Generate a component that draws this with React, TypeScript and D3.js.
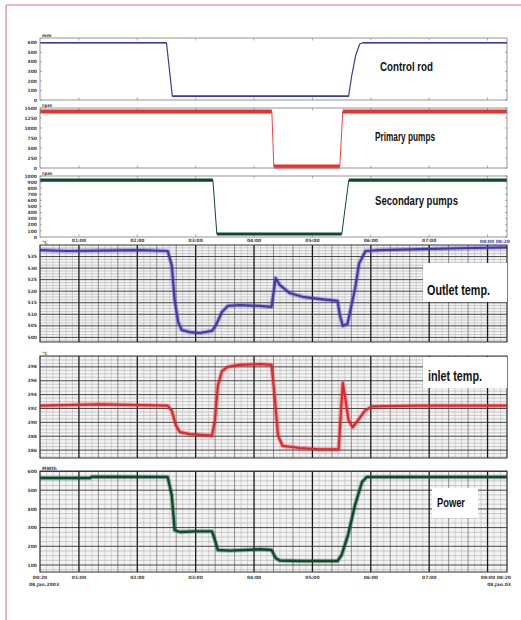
import React from 'react';
import * as d3 from 'd3';

// ---------- DATA ----------
const timeStart = 1 / 3;
const timeEnd = 25 / 3;
const timeTicks = [1, 2, 3, 4, 5, 6, 7, 8];
const timeLabels = ['01:00', '02:00', '03:00', '04:00', '05:00', '06:00', '07:00', '08:00'];
const startLabel = ['00:20', '08.Jan.2003'];
const endLabel = ['08:20', '08.Jan.03'];

const rodDomain = [0, 650];
const rodTicks = [0, 100, 200, 300, 400, 500, 600];
const controlRod: [number, number][] = [
  [0.333, 600], [2.5, 600], [2.6, 40], [5.62, 40], [5.675, 262], [5.743, 472], [5.81, 587], [5.863, 600], [8.333, 600],
];

const primaryDomain = [0, 1500];
const primaryTicks = [0, 250, 500, 750, 1000, 1250, 1500];
const primaryPumps: [number, number][] = [
  [0.333, 1412], [4.305, 1412], [4.339, 37], [5.469, 37], [5.52, 1412], [8.333, 1412],
];

const secondaryDomain = [0, 1000];
const secondaryTicks = [0, 100, 200, 300, 400, 500, 600, 700, 800, 900, 1000];
const secondaryPumps: [number, number][] = [
  [0.333, 934], [3.295, 934], [3.363, 49], [5.503, 49], [5.623, 934], [8.333, 934],
];

const outletDomain = [498, 540];
const outletTicks = [500, 505, 510, 515, 520, 525, 530, 535];
const outletTemp: [number, number][] = [
  [0.333, 537.8], [0.8, 537.4], [1.36, 537.6], [2.04, 537.8], [2.52, 537.4], [2.59, 531.3], [2.64, 516.2],
  [2.7, 506.7], [2.76, 503.2], [2.9, 502.3], [3.07, 501.9], [3.28, 502.8], [3.35, 505.4], [3.45, 511.0],
  [3.55, 513.6], [3.76, 514.0], [4.1, 513.6], [4.3, 513.2], [4.34, 520.5], [4.37, 525.7], [4.44, 522.7],
  [4.61, 519.2], [4.84, 517.5], [5.13, 516.6], [5.43, 515.8], [5.47, 509.7], [5.52, 505.0], [5.6, 505.8],
  [5.66, 512.8], [5.73, 521.0], [5.8, 532.0], [5.91, 537.4], [6.15, 537.8], [6.84, 538.2], [7.52, 538.6], [8.333, 539.0],
];

const inletDomain = [384.86, 399.57];
const inletTicks = [386, 388, 390, 392, 394, 396, 398];
const inletTemp: [number, number][] = [
  [0.333, 392.4], [1.36, 392.6], [2.52, 392.4], [2.59, 391.7], [2.66, 389.6], [2.73, 388.6], [2.9, 388.3],
  [3.28, 388.1], [3.33, 390.3], [3.38, 395.3], [3.45, 397.4], [3.55, 398.0], [3.76, 398.3], [4.1, 398.4],
  [4.3, 398.3], [4.36, 393.1], [4.41, 388.1], [4.49, 386.6], [4.78, 386.3], [5.13, 386.1], [5.45, 386.1],
  [5.48, 390.3], [5.52, 395.7], [5.57, 393.1], [5.62, 390.3], [5.69, 389.3], [5.78, 390.3], [5.9, 391.7],
  [6.02, 392.3], [6.84, 392.4], [8.333, 392.4],
];

const powerDomain = [62.6, 602.7];
const powerTicks = [100, 200, 300, 400, 500, 600];
const power: [number, number][] = [
  [0.333, 565.3], [1.19, 565.3], [1.22, 572], [2.52, 570.6], [2.59, 474], [2.64, 287], [2.73, 276.5],
  [2.99, 280], [3.28, 280], [3.33, 233.7], [3.38, 180], [3.59, 177], [4.1, 184], [4.3, 180], [4.37, 137.4],
  [4.44, 124], [4.78, 121.4], [5.43, 121.4], [5.5, 153.5], [5.61, 260.4], [5.73, 420.9], [5.85, 543.9],
  [5.93, 570.6], [6.84, 570.6], [8.333, 570.6],
];

const titles = ['Control rod', 'Primary pumps', 'Secondary pumps', 'Outlet temp.', 'inlet temp.', 'Power'];
const units = ['mm', 'rpm', 'rpm', '°C', '°C', 'MWth'];

// ---------- LAYOUT / STYLE ----------
const X0 = 40;
const X1 = 507;
const titleFont = "'Liberation Sans', Arial, sans-serif";

type PanelCfg = {
  data: [number, number][]; domain: number[]; ticks: number[];
  top: number; bottom: number; grid: boolean; color: string; sw: number; halo: number; stepThin?: number;
  title: string; unit: string; tx: number; ty: number; fs: number; tw: number; box?: [number, number, number, number];
};

const panels: PanelCfg[] = [
  { data: controlRod, domain: rodDomain, ticks: rodTicks, top: 38, bottom: 100, grid: false, color: '#3b3ba0', sw: 1.6, halo: 0, stepThin: 1.2,
    title: titles[0], unit: units[0], tx: 380, ty: 71, fs: 12, tw: 53 },
  { data: primaryPumps, domain: primaryDomain, ticks: primaryTicks, top: 108, bottom: 168, grid: false, color: '#e8322c', sw: 3.8, halo: 0, stepThin: 0.9,
    title: titles[1], unit: units[1], tx: 375, ty: 141, fs: 12, tw: 60 },
  { data: secondaryPumps, domain: secondaryDomain, ticks: secondaryTicks, top: 176, bottom: 237, grid: false, color: '#0d4a2c', sw: 3.2, halo: 0, stepThin: 1,
    title: titles[2], unit: units[2], tx: 375, ty: 205, fs: 13.5, tw: 83 },
  { data: outletTemp, domain: outletDomain, ticks: outletTicks, top: 245, bottom: 342, grid: true, color: '#4338b0', sw: 2.2, halo: 4.5,
    title: titles[3], unit: units[3], tx: 427, ty: 295, fs: 14, tw: 63, box: [423, 263, 84, 39] },
  { data: inletTemp, domain: inletDomain, ticks: inletTicks, top: 356, bottom: 458, grid: true, color: '#e3262a', sw: 2.2, halo: 4.5,
    title: titles[4], unit: units[4], tx: 428, ty: 381, fs: 14, tw: 54, box: [423, 357, 84, 31] },
  { data: power, domain: powerDomain, ticks: powerTicks, top: 471, bottom: 572, grid: true, color: '#0e4a2b', sw: 2.4, halo: 4.5,
    title: titles[5], unit: units[5], tx: 437, ty: 507, fs: 13, tw: 28, box: [432, 488, 46, 30] },
];

const x = d3.scaleLinear().domain([timeStart, timeEnd]).range([X0, X1]);

function Panel({ p, i }: { p: PanelCfg; i: number }) {
  const y = d3.scaleLinear().domain(p.domain).range([p.bottom, p.top]);
  const line = d3.line<[number, number]>().x((d) => x(d[0])).y((d) => y(d[1]));
  const clipId = `clip${i}`;
  const fine: number[] = [];
  const medium: number[] = [];
  if (p.grid) {
    for (let k = 3; k <= 75; k++) {
      const t = k / 9;
      if (k % 9 === 0) continue;
      if (k % 3 === 0) medium.push(t);
      else fine.push(t);
    }
  }
  const step = p.ticks[1] - p.ticks[0];
  const hMinor: number[] = [];
  if (p.grid) {
    const start = Math.ceil(p.domain[0] / (step / 4)) * (step / 4);
    for (let v = start; v <= p.domain[1]; v += step / 4) {
      if (Math.abs(v / step - Math.round(v / step)) > 1e-6) hMinor.push(v);
    }
  }
  // flat segments (for step signals: thick plateaus, thin transitions)
  const flats: [number, number][][] = [];
  if (p.stepThin) {
    for (let k = 0; k < p.data.length - 1; k++) {
      if (p.data[k][1] === p.data[k + 1][1]) flats.push([p.data[k], p.data[k + 1]]);
    }
  }
  return (
    <g>
      <defs>
        <clipPath id={clipId}>
          <rect x={X0} y={p.top - 3} width={X1 - X0} height={p.bottom - p.top + 6} />
        </clipPath>
      </defs>
      <rect x={X0} y={p.top} width={X1 - X0} height={p.bottom - p.top} fill={p.grid ? '#f3f3f3' : '#fff'} />
      {p.grid && (
        <g>
          {fine.map((t) => (
            <line key={'f' + t} x1={x(t)} x2={x(t)} y1={p.top} y2={p.bottom} stroke="#b5b5b5" strokeWidth={0.5} />
          ))}
          {hMinor.map((v) => (
            <line key={'h' + v} x1={X0} x2={X1} y1={y(v)} y2={y(v)} stroke="#a0a0a0" strokeWidth={0.5} />
          ))}
          {medium.map((t) => (
            <line key={'m' + t} x1={x(t)} x2={x(t)} y1={p.top} y2={p.bottom} stroke="#666" strokeWidth={0.7} />
          ))}
          {p.ticks.map((v) => (
            <line key={'t' + v} x1={X0} x2={X1} y1={y(v)} y2={y(v)} stroke="#333" strokeWidth={0.9} />
          ))}
          {timeTicks.map((t) => (
            <line key={'M' + t} x1={x(t)} x2={x(t)} y1={p.top} y2={p.bottom} stroke="#1a1a1a" strokeWidth={1.3} />
          ))}
        </g>
      )}
      {!p.grid && (
        <g stroke="#888" strokeWidth={0.7}>
          {timeTicks.map((t) => (
            <g key={'k' + t}>
              <line x1={x(t)} x2={x(t)} y1={p.top} y2={p.top + 2.5} />
              <line x1={x(t)} x2={x(t)} y1={p.bottom} y2={p.bottom - 2.5} />
            </g>
          ))}
          {p.ticks.map((v) => (
            <g key={'r' + v}>
              <line x1={X0} x2={X0 + 2} y1={y(v)} y2={y(v)} />
              <line x1={X1} x2={X1 - 2} y1={y(v)} y2={y(v)} />
            </g>
          ))}
        </g>
      )}
      <g clipPath={`url(#${clipId})`}>
        {p.halo > 0 && (
          <path d={line(p.data) || ''} fill="none" stroke={p.color} strokeOpacity={0.35} strokeWidth={p.halo} strokeLinejoin="round" />
        )}
        {p.stepThin ? (
          <g>
            <path d={line(p.data) || ''} fill="none" stroke={p.color} strokeWidth={p.stepThin} strokeLinejoin="round" />
            {flats.map((seg, k) => (
              <path key={k} d={line(seg) || ''} fill="none" stroke={p.color} strokeWidth={p.sw} strokeLinecap="butt" />
            ))}
          </g>
        ) : (
          <path d={line(p.data) || ''} fill="none" stroke={p.color} strokeWidth={p.sw} strokeLinejoin="round" />
        )}
      </g>
      <rect x={X0} y={p.top} width={X1 - X0} height={p.bottom - p.top} fill="none" stroke={p.grid ? '#333' : '#8a8a8a'} strokeWidth={p.grid ? 1 : 0.9} />
      {p.ticks.map((v) => (
        <text key={'l' + v} x={X0 - 3} y={y(v) + 1.6} fontSize={4.5} textAnchor="end" fill="#444" fontFamily="'DejaVu Sans', sans-serif" fontWeight="bold">
          {v}
        </text>
      ))}
      <text x={X0 + 2} y={p.top - 1.5} fontSize={4.5} textAnchor="start" fill="#444" fontFamily="'DejaVu Sans', sans-serif" fontWeight="bold">
        {p.unit}
      </text>
      {p.box && <rect x={p.box[0]} y={p.box[1]} width={p.box[2]} height={p.box[3]} fill="#fff" />}
      <text x={p.tx} y={p.ty} fontSize={p.fs} textAnchor="start" fill="#111" fontFamily={titleFont} fontWeight="bold"
        textLength={p.tw} lengthAdjust="spacingAndGlyphs">
        {p.title}
      </text>
    </g>
  );
}

function TimeAxis({ yPos, full }: { yPos: number; full: boolean }) {
  return (
    <g fontFamily="'DejaVu Sans', sans-serif" fontSize={4.5} fill="#444" fontWeight="bold">
      {timeTicks.slice(0, 7).map((t, i) => (
        <text key={t} x={x(t)} y={yPos} textAnchor="middle">{timeLabels[i]}</text>
      ))}
      {full && (
        <g>
          <text x={X0} y={yPos} textAnchor="middle">{startLabel[0]}</text>
          <text x={X0 + 4} y={yPos + 7} textAnchor="middle">{startLabel[1]}</text>
          <text x={X1 + 4} y={yPos} textAnchor="end">{timeLabels[7] + ' ' + endLabel[0]}</text>
          <text x={X1 + 4} y={yPos + 7} textAnchor="end">{endLabel[1]}</text>
        </g>
      )}
      {!full && (
        <text x={X1 + 3} y={yPos + 1} textAnchor="end" fill="#4a4ab0">{timeLabels[7] + ' ' + endLabel[0]}</text>
      )}
    </g>
  );
}

export default function App() {
  return (
    <svg width={521} height={620} style={{ position: 'absolute', left: 0, top: 0, background: '#fff' }}>
      <rect x={0} y={0} width={521} height={620} fill="#fff" />
      <line x1={6} y1={5} x2={521} y2={5} stroke="#e8a0a6" strokeWidth={1.6} />
      <line x1={6} y1={5} x2={6} y2={620} stroke="#e8a0a6" strokeWidth={1.6} />
      {panels.map((p, i) => (
        <Panel key={i} p={p} i={i} />
      ))}
      <TimeAxis yPos={242} full={false} />
      <TimeAxis yPos={579} full={true} />
    </svg>
  );
}
